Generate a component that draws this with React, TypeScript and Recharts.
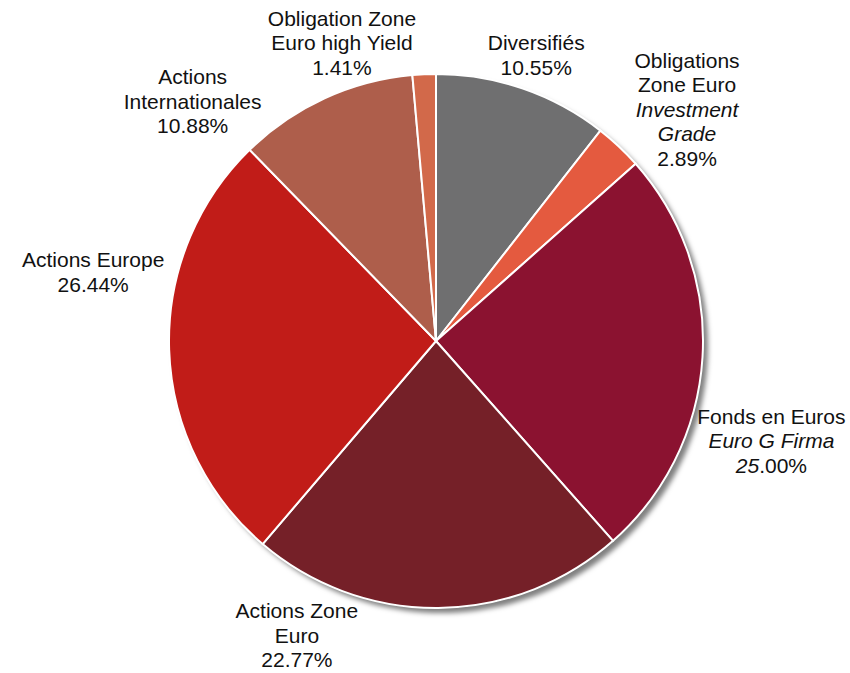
import { Pie, PieChart, Cell } from "recharts"

const categories = [
  "Diversifiés",
  "Obligations Zone Euro Investment Grade",
  "Fonds en Euros Euro G Firma",
  "Actions Zone Euro",
  "Actions Europe",
  "Actions Internationales",
  "Obligation Zone Euro high Yield",
]

const values = [10.55, 2.89, 25.0, 22.77, 26.44, 10.88, 1.41]

// label lines as shown in the chart (italic segments marked with a leading "*")
const labelLines = [
  ["Diversifiés"],
  ["Obligations", "Zone Euro", "*Investment", "*Grade"],
  ["Fonds en Euros", "*Euro G Firma"],
  ["Actions Zone", "Euro"],
  ["Actions Europe"],
  ["Actions", "Internationales"],
  ["Obligation Zone", "Euro high Yield"],
]

const COLORS = ["#6f6f70", "#e45a3f", "#8b1230", "#752028", "#c11c18", "#ae5e4b", "#d2694a"]

// manual nudges, like the hand-placed labels in the original
const NUDGE = [
  [-3, 13],
  [34, -1],
  [19, 80],
  [-142, -23],
  [-26, -80],
  [-111, 48],
  [-80, 18],
]

const data = categories.map((name, i) => ({ name, value: values[i] }))

const RAD = Math.PI / 180
const FONT = 21
const LINE = 24.5

function renderLabel(props: any) {
  const { cx, cy, midAngle, outerRadius, index } = props
  const r = outerRadius + 50
  const bx = cx + r * Math.cos(-midAngle * RAD)
  const by = cy + r * Math.sin(-midAngle * RAD)
  const x = bx + NUDGE[index][0]
  const y = by + NUDGE[index][1]
  const lines = labelLines[index]
  const n = lines.length + 1
  const top = y - ((n - 1) * LINE) / 2
  const pct = values[index].toFixed(2)
  const [intPart, decPart] = pct.split(".")
  return (
    <text
      key={`lbl-${index}`}
      x={x}
      y={top}
      textAnchor="middle"
      dominantBaseline="central"
      fill="#111"
      style={{ fontFamily: "'Liberation Sans', Arial, sans-serif", fontSize: FONT }}
    >
      {lines.map((l, i) => (
        <tspan
          key={i}
          x={x}
          y={top + i * LINE}
          fontStyle={l.startsWith("*") ? "italic" : "normal"}
        >
          {l.replace(/^\*/, "")}
        </tspan>
      ))}
      <tspan x={x} y={top + lines.length * LINE}>
        <tspan fontStyle={index === 2 ? "italic" : "normal"}>{intPart}</tspan>
        {`.${decPart}%`}
      </tspan>
    </text>
  )
}

export default function App() {
  return (
    <div style={{ position: "absolute", left: 0, top: 0, width: 850, height: 673, background: "#fff" }}>
      <svg width={0} height={0} style={{ position: "absolute" }}>
        <defs>
          <filter id="pieShadow" x="-10%" y="-10%" width="125%" height="125%">
            <feDropShadow dx={5} dy={5} stdDeviation={2.5} floodColor="#000" floodOpacity={0.5} />
          </filter>
        </defs>
      </svg>
      <style>{`.shadow-pie .recharts-sector { filter: url(#pieShadow); }`}</style>
      <PieChart width={850} height={673} margin={{ top: 0, right: 0, bottom: 0, left: 0 }}>
        <Pie
          className="shadow-pie"
          data={[{ name: "bg", value: 1 }]}
          dataKey="value"
          cx={436}
          cy={341}
          outerRadius={267}
          startAngle={90}
          endAngle={-270}
          stroke="none"
          fill="#ffffff"
          isAnimationActive={false}
        />
        <Pie
          data={data}
          dataKey="value"
          cx={436}
          cy={341}
          outerRadius={267}
          startAngle={90}
          endAngle={-270}
          stroke="#ffffff"
          strokeWidth={2}
          label={renderLabel}
          labelLine={false}
          isAnimationActive={false}
        >
          {data.map((d, i) => (
            <Cell key={d.name} fill={COLORS[i]} />
          ))}
        </Pie>
      </PieChart>
    </div>
  )
}
